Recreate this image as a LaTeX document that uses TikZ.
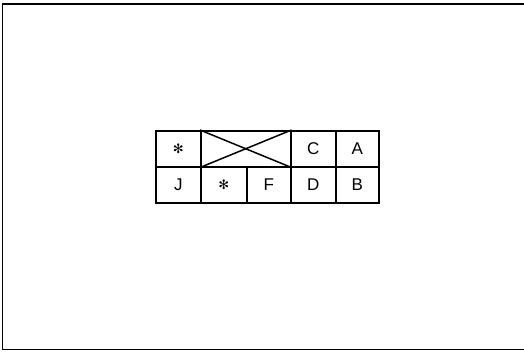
\documentclass[tikz,border=0pt]{standalone}
\usepackage{fontspec}
\setmainfont{Liberation Sans}
\newfontfamily\symfont{DejaVu Sans}
\begin{document}
\begin{tikzpicture}[x=1pt,y=-1pt,
  cell/.style={draw,line width=1.5pt,minimum width=45pt,minimum height=36pt,inner sep=0pt,anchor=north west,font=\fontsize{17}{17}\selectfont},
  star/.style={font=\symfont\fontsize{13}{13}\selectfont},
  frame/.style={line width=1.6pt}]
\useasboundingbox (0,0) rectangle (524,351);
\draw[frame] (524,4) -- (2.5,4) -- (2.5,349.5) -- (524,349.5);
% top row
\node[cell,star] (s1) at (155,130) {✻};
\node[cell,minimum width=90pt] (x) at (200,130) {};
\node[cell] (c) at (290,130) {C};
\node[cell,minimum width=43pt] (a) at (335,130) {A};
% bottom row
\node[cell] (j) at (155,166) {J};
\node[cell,star,minimum width=46pt] (s2) at (200,166) {✻};
\node[cell,minimum width=44pt] (f) at (246,166) {F};
\node[cell] (d) at (290,166) {D};
\node[cell,minimum width=43pt] (b) at (335,166) {B};
\draw[line width=1.5pt] (x.north west) -- (x.south east);
\draw[line width=1.5pt] (x.south west) -- (x.north east);
\end{tikzpicture}
\end{document}
